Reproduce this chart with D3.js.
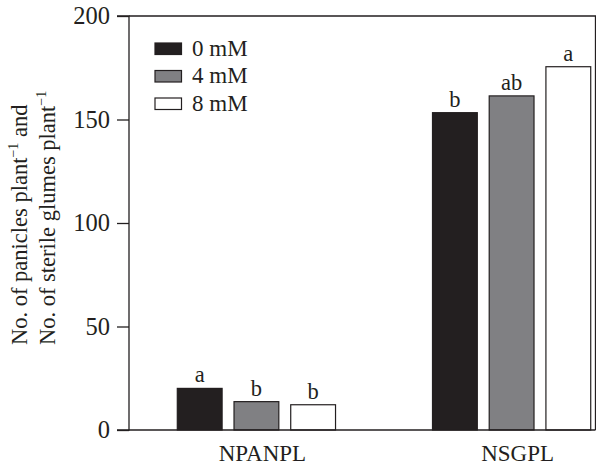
<!DOCTYPE html>
<html>
<head>
<meta charset="utf-8">
<script src="https://cdn.jsdelivr.net/npm/d3@7"></script>
<style>
    body { margin: 0; background: #fff; }
    svg { display: block; font-family: 'Liberation Serif', 'DejaVu Serif', serif; }
</style>
</head>
<body>
<div id="chart"></div>
<script>
// Data
var categories = [ 'NPANPL', 'NSGPL' ],
    treatments = [ '0 mM', '4 mM', '8 mM' ],
    values = {
        'NPANPL': [ 20.1, 13.7, 12.2 ],
        'NSGPL': [ 153.3, 161.4, 175.5 ]
    },
    letters = {
        'NPANPL': [ 'a', 'b', 'b' ],
        'NSGPL': [ 'b', 'ab', 'a' ]
    },
    yTicks = [ 0, 50, 100, 150, 200 ];

var fills = [ '#231f20', '#808083', '#ffffff' ],
    ink = '#231f20',
    fontSize = 22.5;

var width = 596,
    height = 470,
    plotLeft = 129,
    plotRight = 595.5,
    plotTop = 16,
    plotBottom = 430;

var svg = d3.select( '#chart' )
    .append( 'svg' )
    .attr( 'width', width )
    .attr( 'height', height );

var y = d3.scaleLinear()
    .domain( [ 0, 200 ] )
    .range( [ plotBottom, plotTop ] );

var x = d3.scaleBand()
    .domain( categories )
    .range( [ plotLeft, plotRight ] )
    .paddingInner( 0.38 )
    .paddingOuter( 0.104 )
    .align( 0.91 );

var xs = d3.scaleBand()
    .domain( treatments )
    .range( [ 0, x.bandwidth() ] )
    .paddingInner( 0.21 );

// Frame (top and right)
svg.append( 'path' )
    .attr( 'd', 'M' + plotLeft + ',' + plotTop + 'H' + plotRight + 'V' + plotBottom )
    .attr( 'fill', 'none' )
    .attr( 'stroke', ink )
    .attr( 'stroke-width', 1.3 );

// Bars
var rows = d => values[ d ].map( ( v, i ) => ( { v, i, l: letters[ d ][ i ] } ) );

var groups = svg.selectAll( 'g.group' )
    .data( categories )
    .enter()
    .append( 'g' )
    .attr( 'class', 'group' )
    .attr( 'transform', d => 'translate(' + x( d ) + ',0)' );

groups.selectAll( 'rect' )
    .data( rows )
    .enter()
    .append( 'rect' )
    .attr( 'x', d => xs( treatments[ d.i ] ) )
    .attr( 'y', d => y( d.v ) )
    .attr( 'width', xs.bandwidth() )
    .attr( 'height', d => y( 0 ) - y( d.v ) )
    .attr( 'fill', d => fills[ d.i ] )
    .attr( 'stroke', ink )
    .attr( 'stroke-width', 1.2 );

groups.selectAll( 'text.letter' )
    .data( rows )
    .enter()
    .append( 'text' )
    .attr( 'class', 'letter' )
    .attr( 'x', d => xs( treatments[ d.i ] ) + xs.bandwidth() / 2 )
    .attr( 'y', d => y( d.v ) - 6 )
    .attr( 'text-anchor', 'middle' )
    .attr( 'font-size', fontSize )
    .attr( 'fill', ink )
    .text( d => d.l );

// Y axis
var yAxis = svg.append( 'g' )
    .attr( 'transform', 'translate(' + plotLeft + ',0)' )
    .call( d3.axisLeft( y ).tickValues( yTicks ).tickSize( 12 ).tickPadding( 7 ) );

yAxis.selectAll( 'path, line' ).attr( 'stroke', ink ).attr( 'stroke-width', 1.3 );
yAxis.select( '.domain' ).attr( 'd', 'M-12,' + plotTop + 'H0V' + plotBottom + 'H-12' );
yAxis.selectAll( 'text' )
    .attr( 'font-family', 'Liberation Serif, serif' )
    .attr( 'font-size', 24.5 )
    .attr( 'fill', ink );

// X axis (baseline + category labels)
var xAxis = svg.append( 'g' )
    .attr( 'transform', 'translate(0,' + plotBottom + ')' )
    .call( d3.axisBottom( x ).tickSize( 0 ).tickPadding( 15 ) );

xAxis.select( '.domain' )
    .attr( 'd', 'M' + plotLeft + ',0H' + plotRight )
    .attr( 'stroke', ink )
    .attr( 'stroke-width', 1.3 );
xAxis.selectAll( 'text' )
    .attr( 'font-family', 'Liberation Serif, serif' )
    .attr( 'font-size', 23 )
    .attr( 'fill', ink )
    .attr( 'dx', 6 );

// Y title, two lines
var title = svg.append( 'text' )
    .attr( 'transform', 'translate(27,345) rotate(-90)' )
    .attr( 'font-size', fontSize )
    .attr( 'fill', ink );

[
    [ [ 'No. of panicles plant', 0 ], [ '\u22121', 1 ], [ ' and', 2 ] ],
    [ [ 'No. of sterile glumes plant', 0 ], [ '\u22121', 1 ] ]
].forEach( ( parts, li ) => {
    var line = title.append( 'tspan' )
        .attr( 'x', 0 )
        .attr( 'y', li * 28 );
    parts.forEach( p => {
        line.append( 'tspan' )
            .attr( 'font-size', p[ 1 ] === 1 ? 14 : fontSize )
            .attr( 'dy', p[ 1 ] === 1 ? -9 : ( p[ 1 ] === 2 ? 9 : 0 ) )
            .text( p[ 0 ] );
    } );
} );

// Legend
var legend = svg.append( 'g' )
    .attr( 'transform', 'translate(155,43)' );

treatments.forEach( ( t, i ) => {
    legend.append( 'rect' )
        .attr( 'x', 0 )
        .attr( 'y', i * 27.5 )
        .attr( 'width', 26.5 )
        .attr( 'height', 11.5 )
        .attr( 'fill', fills[ i ] )
        .attr( 'stroke', ink )
        .attr( 'stroke-width', 1.2 );
    legend.append( 'text' )
        .attr( 'x', 37 )
        .attr( 'y', i * 27.5 + 12.5 )
        .attr( 'font-size', 23 )
        .attr( 'fill', ink )
        .text( t );
} );
</script>
</body>
</html>
